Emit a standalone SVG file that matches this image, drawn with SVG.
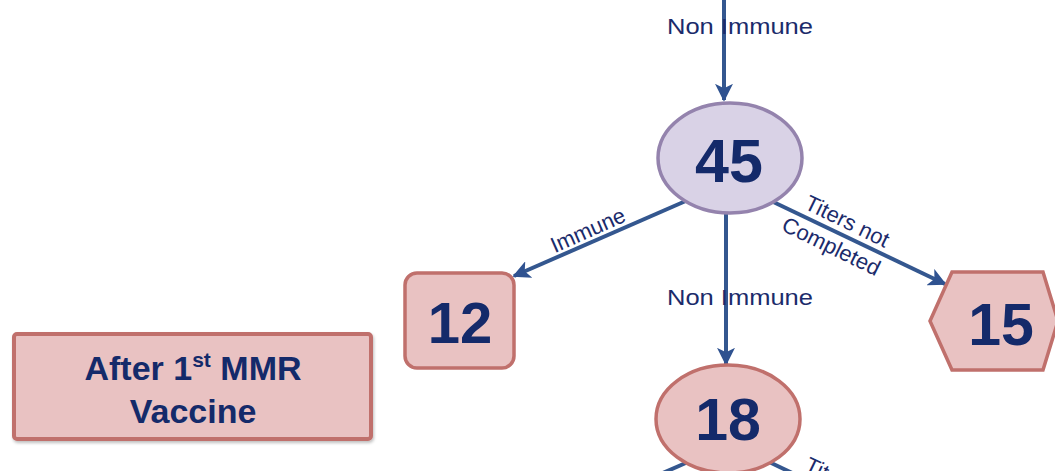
<svg xmlns="http://www.w3.org/2000/svg" width="1055" height="471" viewBox="0 0 1055 471">
<defs>
<marker id="ah" viewBox="0 0 10 10" refX="9" refY="5" markerWidth="4.5" markerHeight="4.5" orient="auto" markerUnits="strokeWidth">
<path d="M0,0 L10,5 L0,10 L2.5,5 Z" fill="#2f5290"/>
</marker>
<filter id="sh" x="-10%" y="-10%" width="120%" height="130%">
<feDropShadow dx="1" dy="2" stdDeviation="1.5" flood-color="#000" flood-opacity="0.25"/>
</filter>
</defs>
<style>
.edge{stroke:#34578f;stroke-width:4;fill:none}
.lbl{font-family:"Liberation Sans",Arial,sans-serif;font-size:22px;fill:#1b2b6b}
.num{font-family:"Liberation Sans",Arial,sans-serif;font-weight:bold;fill:#142a6a;text-anchor:middle}
.pink{fill:#e9c2c2;stroke:#c0706c;stroke-width:3.5}
.lav{fill:#d9d2e6;stroke:#9483ad;stroke-width:3.5}
</style>
<g id="connectors">
<line class="edge" x1="724" y1="-2" x2="724" y2="100" marker-end="url(#ah)"/>
<line class="edge" x1="726" y1="213" x2="726" y2="364" marker-end="url(#ah)"/>
<line class="edge" x1="688" y1="200" x2="514" y2="276" marker-end="url(#ah)"/>
<line class="edge" x1="765" y1="198" x2="945" y2="284" marker-end="url(#ah)"/>
<line class="edge" x1="688" y1="462" x2="514" y2="538"/>
<line class="edge" x1="765" y1="460" x2="945" y2="546"/>
<text class="lbl" x="740" y="34" text-anchor="middle" textLength="146" lengthAdjust="spacingAndGlyphs">Non Immune</text>
<text class="lbl" x="740" y="305" text-anchor="middle" textLength="146" lengthAdjust="spacingAndGlyphs">Non Immune</text>
<text class="lbl" x="0" y="0" text-anchor="middle" transform="translate(591,237) rotate(-24)" font-size="23">Immune</text>
<text class="lbl" x="0" y="0" text-anchor="middle" transform="translate(844,228) rotate(26)" font-size="23">Titers not</text>
<text class="lbl" x="0" y="0" text-anchor="middle" transform="translate(828,253) rotate(26)" font-size="23">Completed</text>
<text class="lbl" x="0" y="0" text-anchor="middle" transform="translate(591,499) rotate(-24)" font-size="23">Immune</text>
<text class="lbl" x="0" y="0" text-anchor="middle" transform="translate(844,490) rotate(26)" font-size="23">Titers not</text>
</g>
<g id="n45">
<ellipse class="lav" cx="730" cy="158" rx="72" ry="55"/>
<text class="num" x="729" y="182" font-size="61">45</text>
</g>
<g id="n12">
<rect class="pink" x="405" y="273" width="109" height="95" rx="12"/>
<text class="num" x="460" y="343" font-size="58">12</text>
</g>
<g id="n15">
<polygon class="pink" points="930,321 952,272 1043,272 1058,321 1043,370 952,370"/>
<text class="num" x="1001" y="345" font-size="59">15</text>
</g>
<g id="n18">
<ellipse class="pink" cx="728" cy="419" rx="72" ry="54"/>
<text class="num" x="728" y="440" font-size="59">18</text>
</g>
<g id="title">
<rect x="14" y="334" width="357" height="105" rx="3" fill="#e9c2c2" stroke="#c0706c" stroke-width="4" filter="url(#sh)"/>
<text class="num" x="193" y="380" font-size="34">After 1<tspan font-size="21" dy="-13">st</tspan><tspan dy="13"> MMR</tspan></text>
<text class="num" x="193" y="423" font-size="34">Vaccine</text>
</g>
</svg>
